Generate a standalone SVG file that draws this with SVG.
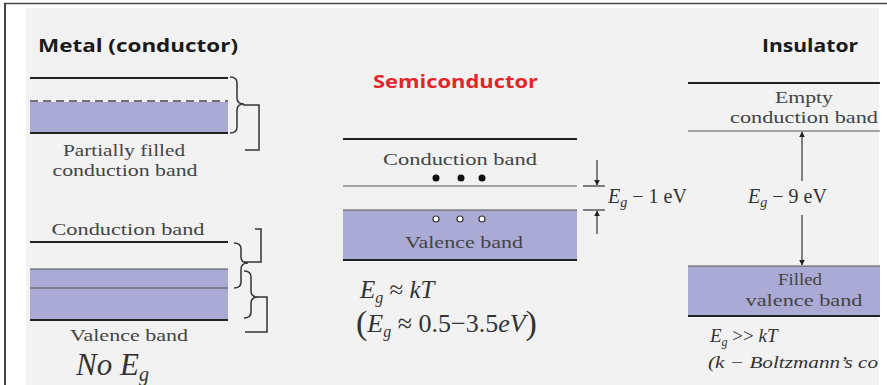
<svg xmlns="http://www.w3.org/2000/svg" width="887" height="385" viewBox="0 0 887 385">
<style>
.title{font-family:"Open Sans","Liberation Sans",sans-serif;font-weight:bold;font-size:18px;fill:#1a1a1a}
.lbl{font-family:"Liberation Serif",serif;font-size:17px;fill:#444}
.math{font-family:"Liberation Serif",serif;fill:#333}
.it{font-style:italic}
.band{fill:#aaaad4}
.ln{stroke:#222;stroke-width:2;fill:none}
.thin{stroke:#555;stroke-width:1.2;fill:none}
.br{stroke:#333;stroke-width:1.5;fill:none}
.arr{stroke:#333;stroke-width:1.2;fill:none}
</style>
<defs>
<marker id="ah" viewBox="0 0 10 10" refX="9" refY="5" markerWidth="6" markerHeight="7" orient="auto" markerUnits="userSpaceOnUse">
<path d="M0,0 L10,5 L0,10 z" fill="#222"/>
</marker>
</defs>
<rect x="0" y="0" width="887" height="385" fill="#ffffff"/>
<rect x="26" y="8" width="853" height="377" fill="#f2f2f2"/>
<line x1="5" y1="3" x2="5" y2="385" stroke="#444" stroke-width="2"/>
<line x1="4" y1="3.5" x2="887" y2="3.5" stroke="#444" stroke-width="1.5"/>

<g id="metal">
<text class="title" x="38" y="52" textLength="200" lengthAdjust="spacingAndGlyphs">Metal (conductor)</text>
<rect class="band" x="30" y="102" width="198" height="31"/>
<line class="ln" x1="30" y1="78" x2="228" y2="78"/>
<line x1="30" y1="101" x2="228" y2="101" stroke="#444" stroke-width="1.5" stroke-dasharray="8,5"/>
<line class="ln" x1="30" y1="133" x2="228" y2="133" stroke-width="2.5"/>
<path class="br" d="M230 77 Q237 77 237 83 L237 98 Q237 104 244 104 Q237 104 237 110 L237 127 Q237 133 230 133"/>
<path class="br" d="M243 105 H259 V150 H245"/>
<text class="lbl" x="124" y="156" text-anchor="middle" textLength="122" lengthAdjust="spacingAndGlyphs">Partially filled</text>
<text class="lbl" x="125" y="176" text-anchor="middle" textLength="145" lengthAdjust="spacingAndGlyphs">conduction band</text>

<text class="lbl" x="128" y="235" text-anchor="middle" textLength="153" lengthAdjust="spacingAndGlyphs">Conduction band</text>
<line class="ln" x1="30" y1="242" x2="228" y2="242"/>
<rect class="band" x="30" y="269" width="198" height="51"/>
<line class="thin" x1="30" y1="269" x2="228" y2="269"/>
<line class="thin" x1="30" y1="288" x2="228" y2="288"/>
<line class="ln" x1="30" y1="320" x2="228" y2="320" stroke-width="2.5"/>
<path class="br" d="M234 243 Q241 243 241 249 L241 257 Q241 263 248 263 Q241 263 241 269 L241 282 Q241 288 234 288"/>
<path class="br" d="M255 229 H261 V262 H244"/>
<path class="br" d="M244 271 Q251 271 251 277 L251 291 Q251 297 258 297 Q251 297 251 303 L251 312 Q251 318 244 318"/>
<path class="br" d="M257 297 H267 V332 H245"/>
<text class="lbl" x="129" y="341" text-anchor="middle" textLength="118" lengthAdjust="spacingAndGlyphs">Valence band</text>
<text class="math it" x="76" y="375" font-size="31">No E<tspan font-size="20" dy="6">g</tspan></text>
</g>

<g id="semiconductor">
<text class="title" x="373" y="88" style="fill:#e2252b" textLength="165" lengthAdjust="spacingAndGlyphs">Semiconductor</text>
<line class="ln" x1="343" y1="139" x2="577" y2="139"/>
<text class="lbl" x="460" y="165" text-anchor="middle" textLength="154" lengthAdjust="spacingAndGlyphs">Conduction band</text>
<circle cx="436" cy="178" r="3.5" fill="#111"/>
<circle cx="461" cy="178" r="3.5" fill="#111"/>
<circle cx="482" cy="178" r="3.5" fill="#111"/>
<line class="thin" x1="343" y1="186" x2="577" y2="186"/>
<rect class="band" x="343" y="210" width="234" height="50"/>
<line class="thin" x1="343" y1="210" x2="577" y2="210" stroke-width="1.8"/>
<line class="ln" x1="343" y1="260" x2="577" y2="260" stroke-width="2.5"/>
<circle cx="436" cy="219" r="3" fill="#fff" stroke="#333" stroke-width="1.2"/>
<circle cx="460" cy="219" r="3" fill="#fff" stroke="#333" stroke-width="1.2"/>
<circle cx="482" cy="219" r="3" fill="#fff" stroke="#333" stroke-width="1.2"/>
<text class="lbl" x="464" y="248" text-anchor="middle" textLength="118" lengthAdjust="spacingAndGlyphs">Valence band</text>
<text class="math" x="360" y="298" font-size="25"><tspan class="it">E</tspan><tspan class="it" font-size="16" dy="5">g</tspan><tspan dy="-5"> ≈ </tspan><tspan class="it">kT</tspan></text>
<text class="math" x="356" y="332" font-size="26"><tspan font-size="34" dy="2">(</tspan><tspan class="it" dy="-2">E</tspan><tspan class="it" font-size="16" dy="5">g</tspan><tspan dy="-5"> ≈ 0.5−3.5</tspan><tspan class="it">eV</tspan><tspan font-size="34" dy="2">)</tspan></text>
</g>

<g id="insulator">
<text class="title" x="762" y="52" textLength="96" lengthAdjust="spacingAndGlyphs">Insulator</text>
<line class="ln" x1="688" y1="83" x2="880" y2="83"/>
<text class="lbl" x="804" y="103" text-anchor="middle" textLength="58" lengthAdjust="spacingAndGlyphs">Empty</text>
<text class="lbl" x="804" y="123" text-anchor="middle" textLength="148" lengthAdjust="spacingAndGlyphs">conduction band</text>
<line class="thin" x1="688" y1="131" x2="880" y2="131" stroke-width="1.5"/>
<rect class="band" x="688" y="266" width="192" height="50"/>
<line class="thin" x1="688" y1="266" x2="880" y2="266" stroke-width="1.8"/>
<line class="ln" x1="688" y1="316" x2="880" y2="316" stroke-width="2.5"/>
<text class="lbl" x="800" y="285" text-anchor="middle" textLength="44" lengthAdjust="spacingAndGlyphs">Filled</text>
<text class="lbl" x="804" y="306" text-anchor="middle" textLength="117" lengthAdjust="spacingAndGlyphs">valence band</text>
<text class="math" x="710" y="342" font-size="19"><tspan class="it">E</tspan><tspan class="it" font-size="12" dy="4">g</tspan><tspan dy="-4"> &gt;&gt; </tspan><tspan class="it">kT</tspan></text>
<text class="math it" x="708" y="368" font-size="17" textLength="170" lengthAdjust="spacingAndGlyphs">(k − Boltzmann’s co</text>
</g>

<g id="connectors">
<line class="arr" x1="597" y1="160" x2="597" y2="185" marker-end="url(#ah)"/>
<line class="arr" x1="583" y1="186" x2="605" y2="186"/>
<line class="arr" x1="583" y1="210" x2="605" y2="210"/>
<line class="arr" x1="597" y1="234" x2="597" y2="211" marker-end="url(#ah)"/>
<line class="arr" x1="802" y1="181" x2="802" y2="132" marker-end="url(#ah)"/>
<line class="arr" x1="802" y1="215" x2="802" y2="265" marker-end="url(#ah)"/>
</g>

<g id="gap-labels">
<text class="math" x="608" y="203" font-size="20"><tspan class="it">E</tspan><tspan class="it" font-size="14" dy="4">g</tspan><tspan dy="-4"> − 1 eV</tspan></text>
<text class="math" x="748" y="203" font-size="20"><tspan class="it">E</tspan><tspan class="it" font-size="14" dy="4">g</tspan><tspan dy="-4"> − 9 eV</tspan></text>
</g>
</svg>
